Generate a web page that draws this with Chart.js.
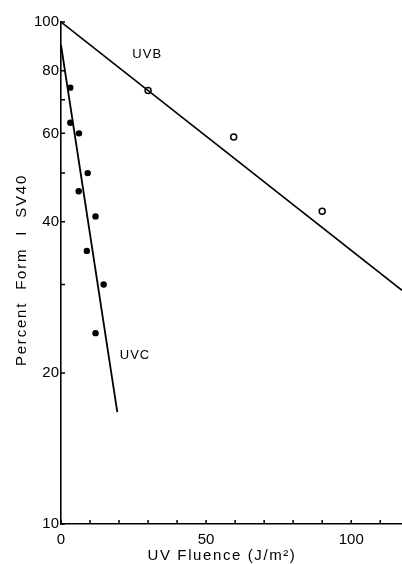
<!DOCTYPE html>
<html>
<head>
<meta charset="utf-8">
<script src="https://cdn.jsdelivr.net/npm/chart.js@4/dist/chart.umd.min.js"></script>
<style>
  html, body { margin: 0; padding: 0; background: #fff; overflow: hidden; }
  #myChart { display: block; }
</style>
</head>
<body>
<canvas id="myChart" width="402" height="564"></canvas>
<script>
// values
let uvbFluence = [30, 59.5, 90];
let uvbPercent = [73, 59, 42];
let uvcFluence = [3.2, 3.2, 6.2, 9.2, 6.1, 11.9, 8.9, 14.7, 11.9];
let uvcPercent = [74, 63, 60, 50, 46, 41, 35, 30, 24];

// fitted lines (end points)
let uvbLineX = [0, 117.5];
let uvbLineY = [100, 29.2];
let uvcLineX = [0, 19.4];
let uvcLineY = [90, 16.7];

let xTicks = [0, 10, 20, 30, 40, 50, 60, 70, 80, 90, 100, 110];
let xLabeled = [0, 50, 100];
let yTicks = [10, 20, 30, 40, 50, 60, 70, 80, 100];
let yLabeled = [10, 20, 40, 60, 80, 100];

let curveNames = ["UVB", "UVC"];
let curveNameX = [29.7, 25.5];
let curveNameY = [86, 21.7];

const fontFamily = "'Liberation Sans', Arial, Helvetica, sans-serif";

function toPoints(xs, ys) {
  return xs.map((x, i) => ({ x: x, y: ys[i] }));
}

// small tick marks pointing into the plot, plus the text that sits on it
const figureText = {
  id: "figureText",
  afterDatasetsDraw(chart) {
    const { ctx, chartArea, scales } = chart;
    const x = scales.x;
    const y = scales.y;
    ctx.save();
    ctx.strokeStyle = "#000";
    ctx.lineWidth = 1.5;
    ctx.beginPath();
    x.ticks.forEach((t) => {
      let px = x.getPixelForValue(t.value);
      ctx.moveTo(px, chartArea.bottom);
      ctx.lineTo(px, chartArea.bottom - 4);
    });
    y.ticks.forEach((t) => {
      let py = y.getPixelForValue(t.value);
      ctx.moveTo(chartArea.left, py);
      ctx.lineTo(chartArea.left + 4, py);
    });
    ctx.stroke();

    ctx.fillStyle = "#000";
    ctx.textAlign = "center";
    ctx.textBaseline = "middle";
    ctx.font = "13px " + fontFamily;
    ctx.letterSpacing = "1px";
    curveNames.forEach((name, i) => {
      ctx.fillText(name, x.getPixelForValue(curveNameX[i]), y.getPixelForValue(curveNameY[i]));
    });

    ctx.font = "15px " + fontFamily;
    ctx.letterSpacing = "1.6px";
    ctx.fillText("UV Fluence (J/m\u00B2)", 222, 556);

    ctx.translate(22, 270);
    ctx.rotate(-Math.PI / 2);
    ctx.letterSpacing = "1.8px";
    ctx.fillText("Percent  Form  I  SV40", 0, 0);
    ctx.restore();
  },
};

const data = {
  datasets: [
    {
      label: "UVB line",
      type: "line",
      data: toPoints(uvbLineX, uvbLineY),
      borderColor: "#000",
      borderWidth: 1.6,
      pointRadius: 0,
      fill: false,
    },
    {
      label: "UVC line",
      type: "line",
      data: toPoints(uvcLineX, uvcLineY),
      borderColor: "#000",
      borderWidth: 1.8,
      pointRadius: 0,
      fill: false,
    },
    {
      label: "UVB",
      data: toPoints(uvbFluence, uvbPercent),
      pointRadius: 3,
      pointBackgroundColor: "#fff",
      pointBorderColor: "#000",
      pointBorderWidth: 1.5,
    },
    {
      label: "UVC",
      data: toPoints(uvcFluence, uvcPercent),
      pointRadius: 3.2,
      pointBackgroundColor: "#000",
      pointBorderColor: "#000",
      pointBorderWidth: 0,
    },
  ],
};

const config = {
  type: "scatter",
  data: data,
  options: {
    responsive: false,
    animation: false,
    layout: { autoPadding: false, padding: { top: 22, right: 0, left: 0, bottom: 0 } },
    plugins: {
      legend: { display: false },
      tooltip: { enabled: false },
    },
    scales: {
      x: {
        type: "linear",
        min: 0,
        max: 117.5,
        grid: { display: false, drawTicks: false },
        border: { display: true, color: "#000", width: 1.6 },
        afterBuildTicks: (scale) => {
          scale.ticks = xTicks.map((v) => ({ value: v }));
        },
        afterFit: (scale) => {
          scale.height = 40;
          scale.paddingLeft = 0;
          scale.paddingRight = 0;
        },
        ticks: {
          autoSkip: false,
          maxRotation: 0,
          padding: 7,
          color: "#000",
          font: { family: fontFamily, size: 15 },
          callback: (v) => (xLabeled.includes(v) ? String(v) : ""),
        },
      },
      y: {
        type: "logarithmic",
        min: 10,
        max: 100,
        grid: { display: false, drawTicks: false },
        border: { display: true, color: "#000", width: 1.6 },
        afterBuildTicks: (scale) => {
          scale.ticks = yTicks.map((v) => ({ value: v }));
        },
        afterFit: (scale) => {
          scale.width = 61;
          scale.paddingTop = 0;
          scale.paddingBottom = 0;
        },
        ticks: {
          autoSkip: false,
          padding: 2,
          color: "#000",
          font: { family: fontFamily, size: 15 },
          callback: (v) => (yLabeled.includes(v) ? String(v) : ""),
        },
      },
    },
  },
  plugins: [figureText],
};

const newChart = new Chart(document.getElementById("myChart"), config);
</script>
</body>
</html>
